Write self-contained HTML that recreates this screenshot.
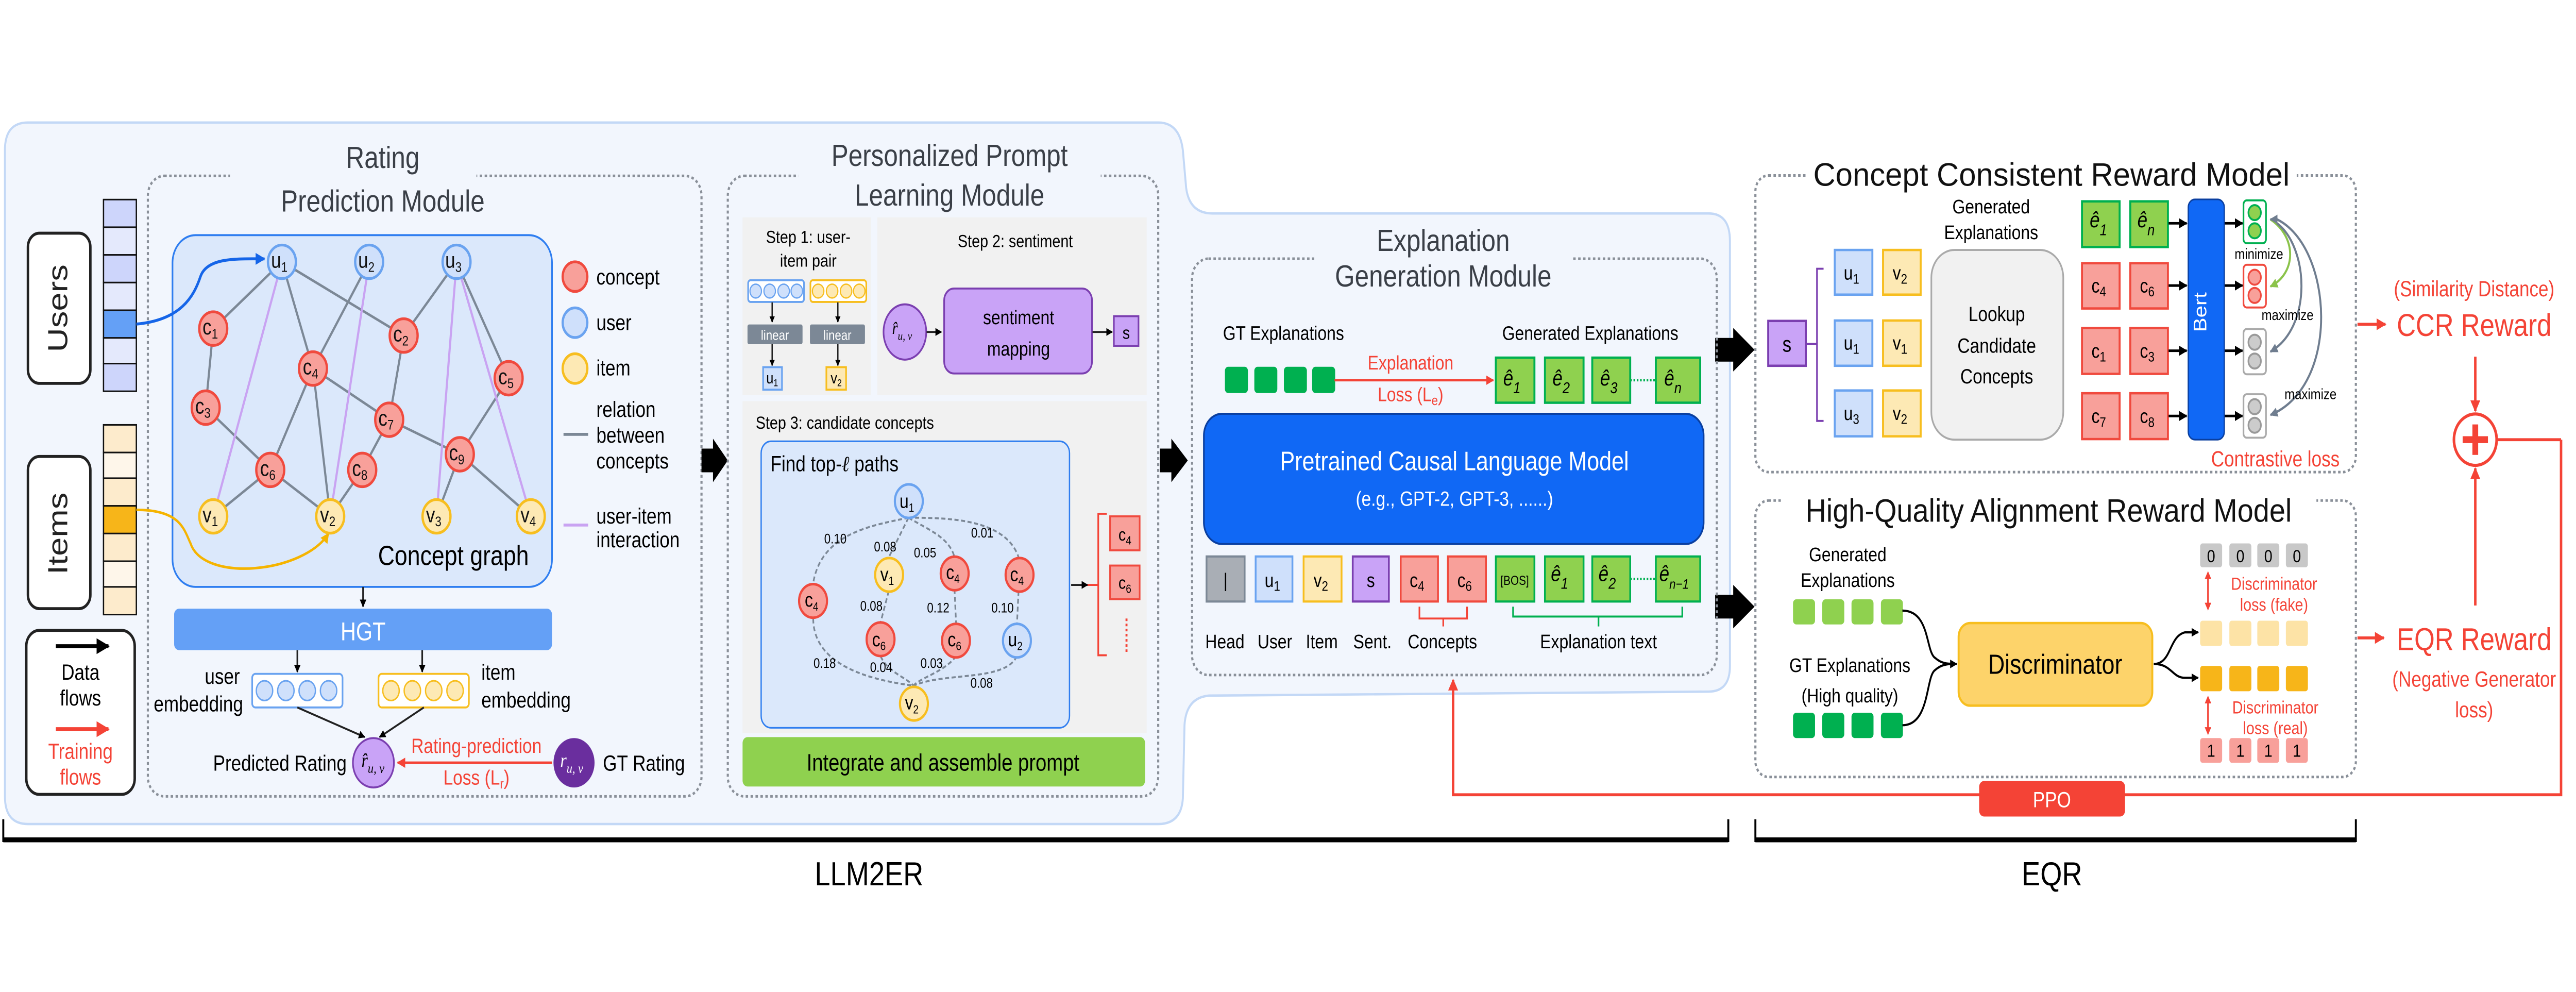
<!DOCTYPE html>
<html><head><meta charset="utf-8"><style>
html,body{margin:0;padding:0;background:#fff;overflow:hidden;width:100vw;height:100vh;}
svg{display:block;width:100vw;height:100vh;}
text{font-family:"Liberation Sans",sans-serif;}
.t{font-size:11px;fill:#000;}
.ti{font-size:15.5px;fill:#3a3f47;}
.m{font-family:"Liberation Serif",serif;font-style:italic;}
</style></head><body>
<svg viewBox="0 0 1568 502" preserveAspectRatio="none" xmlns="http://www.w3.org/2000/svg">
<defs>
<marker id="ab" viewBox="0 0 10 10" refX="9" refY="5" markerWidth="4" markerHeight="4" orient="auto"><path d="M0,0 L10,5 L0,10 z" fill="#000"/></marker>
<marker id="ar" viewBox="0 0 10 10" refX="9" refY="5" markerWidth="4" markerHeight="4" orient="auto"><path d="M0,0 L10,5 L0,10 z" fill="#f44336"/></marker>
<marker id="ar2" viewBox="0 0 10 10" refX="5" refY="5" markerWidth="4" markerHeight="4" orient="auto-start-reverse"><path d="M0,0 L10,5 L0,10 z" fill="#f44336"/></marker>
<marker id="ag" viewBox="0 0 10 10" refX="9" refY="5" markerWidth="4" markerHeight="4" orient="auto"><path d="M0,0 L10,5 L0,10 z" fill="#6f7d8f"/></marker>
<marker id="agr" viewBox="0 0 10 10" refX="9" refY="5" markerWidth="4" markerHeight="4" orient="auto"><path d="M0,0 L10,5 L0,10 z" fill="#8bc34a"/></marker>
<marker id="abl" viewBox="0 0 10 10" refX="9" refY="5" markerWidth="4" markerHeight="4" orient="auto"><path d="M0,0 L10,5 L0,10 z" fill="#1565e8"/></marker>
<marker id="ao" viewBox="0 0 10 10" refX="9" refY="5" markerWidth="4" markerHeight="4" orient="auto"><path d="M0,0 L10,5 L0,10 z" fill="#f5b400"/></marker>
</defs>

<path d="M3,76 Q3,62 17,62 L705,62 Q718,62 720,76 L722,95 Q724,108 738,108 L1040,108 Q1053,108 1053,122 L1053,337 Q1053,350 1040,350 L736,352 Q722,353 721,367 L720,404 Q719,417 705,417 L17,417 Q3,417 3,403 Z" fill="#f2f6fd" stroke="#c3d8f6" stroke-width="1.2"/>

<rect x="90" y="89" width="337" height="314" rx="10" fill="none" stroke="#8a9099" stroke-width="1.3" stroke-dasharray="1.5,1.5"/>
<rect x="140" y="80" width="150" height="30" fill="#f2f6fd"/>
<text class="ti" x="233" y="85" text-anchor="middle">Rating</text>
<text class="ti" x="233" y="107" text-anchor="middle">Prediction Module</text>

<rect x="17" y="118" width="38" height="76" rx="7" fill="#fff" stroke="#222" stroke-width="1.5"/>
<text x="41" y="156" font-size="17" text-anchor="middle" transform="rotate(-90 41 156)" fill="#222">Users</text>
<g stroke="#111" stroke-width="0.8">
<rect x="63" y="101" width="20" height="14" fill="#cdd5fb"/><rect x="63" y="115" width="20" height="14" fill="#e4e9fc"/><rect x="63" y="129" width="20" height="14" fill="#cdd5fb"/><rect x="63" y="143" width="20" height="14" fill="#e4e9fc"/><rect x="63" y="157" width="20" height="14" fill="#64a0f6"/><rect x="63" y="171" width="20" height="13" fill="#e4e9fc"/><rect x="63" y="184" width="20" height="14" fill="#cdd5fb"/>
</g>
<rect x="17" y="231" width="38" height="77" rx="7" fill="#fff" stroke="#222" stroke-width="1.5"/>
<text x="41" y="270" font-size="17" text-anchor="middle" transform="rotate(-90 41 270)" fill="#222">Items</text>
<g stroke="#111" stroke-width="0.8">
<rect x="63" y="215" width="20" height="14" fill="#fdebcc"/><rect x="63" y="229" width="20" height="13" fill="#fef6ea"/><rect x="63" y="242" width="20" height="14" fill="#fdebcc"/><rect x="63" y="256" width="20" height="14" fill="#f7b519"/><rect x="63" y="270" width="20" height="14" fill="#fdebcc"/><rect x="63" y="284" width="20" height="13" fill="#fef6ea"/><rect x="63" y="297" width="20" height="14" fill="#fdebcc"/>
</g>
<rect x="16" y="319" width="66" height="83" rx="8" fill="#fff" stroke="#222" stroke-width="1.5"/>
<line x1="34" y1="327" x2="66" y2="327" stroke="#000" stroke-width="2" marker-end="url(#ab)"/>
<text class="t" x="49" y="344" text-anchor="middle">Data</text><text class="t" x="49" y="357" text-anchor="middle">flows</text>
<line x1="34" y1="369" x2="66" y2="369" stroke="#f44336" stroke-width="2" marker-end="url(#ar)"/>
<text class="t" x="49" y="384" text-anchor="middle" style="fill:#f44336">Training</text><text class="t" x="49" y="397" text-anchor="middle" style="fill:#f44336">flows</text>

<rect x="105" y="119" width="231" height="178" rx="14" fill="#dbe8fb" stroke="#2f7ef0" stroke-width="1"/>
<path d="M83,164 C110,162 118,150 122,140 C126,130 145,131 161,131" fill="none" stroke="#1565e8" stroke-width="1.5" marker-end="url(#abl)"/>
<path d="M83,258 C110,258 112,268 116,275 C124,295 185,290 200,270" fill="none" stroke="#f5b400" stroke-width="1.3" marker-end="url(#ao)"/>
<g stroke="#7c8896" stroke-width="1.3">
<line x1="171.6" y1="132.5" x2="129.8" y2="166.3"/><line x1="171.6" y1="132.5" x2="190.5" y2="186.5"/><line x1="171.6" y1="132.5" x2="245.7" y2="169.8"/>
<line x1="224.7" y1="132.5" x2="190.5" y2="186.5"/><line x1="277.9" y1="132.5" x2="245.7" y2="169.8"/><line x1="277.9" y1="132.5" x2="309.6" y2="191.4"/>
<line x1="129.8" y1="166.3" x2="125.2" y2="206.3"/><line x1="125.2" y1="206.3" x2="164.5" y2="237.8"/><line x1="164.5" y1="237.8" x2="190.5" y2="186.5"/>
<line x1="190.5" y1="186.5" x2="236.9" y2="212.4"/><line x1="190.5" y1="186.5" x2="201" y2="261.3"/><line x1="245.7" y1="169.8" x2="236.9" y2="212.4"/>
<line x1="236.9" y1="212.4" x2="279.9" y2="229.9"/><line x1="236.9" y1="212.4" x2="220.5" y2="237.8"/><line x1="220.5" y1="237.8" x2="201" y2="261.3"/>
<line x1="164.5" y1="237.8" x2="129.8" y2="261.3"/><line x1="164.5" y1="237.8" x2="201" y2="261.3"/><line x1="309.6" y1="191.4" x2="279.9" y2="229.9"/>
<line x1="279.9" y1="229.9" x2="265.7" y2="261.3"/><line x1="279.9" y1="229.9" x2="323.1" y2="261.3"/>
</g>
<g stroke="#c9a3f2" stroke-width="1.3">
<line x1="171.6" y1="132.5" x2="129.8" y2="261.3"/><line x1="224.7" y1="132.5" x2="201" y2="261.3"/><line x1="277.9" y1="132.5" x2="265.7" y2="261.3"/><line x1="277.9" y1="132.5" x2="323.1" y2="261.3"/>
</g>
<g font-size="11" text-anchor="middle" fill="#111">
<g stroke-width="1.4">
<circle cx="171.6" cy="132.5" r="8.5" fill="#cfe0fb" stroke="#6aa3f0"/><circle cx="224.7" cy="132.5" r="8.5" fill="#cfe0fb" stroke="#6aa3f0"/><circle cx="277.9" cy="132.5" r="8.5" fill="#cfe0fb" stroke="#6aa3f0"/>
<circle cx="129.8" cy="166.3" r="8.5" fill="#f8a09a" stroke="#f04a3e"/><circle cx="245.7" cy="169.8" r="8.5" fill="#f8a09a" stroke="#f04a3e"/><circle cx="190.5" cy="186.5" r="8.5" fill="#f8a09a" stroke="#f04a3e"/><circle cx="309.6" cy="191.4" r="8.5" fill="#f8a09a" stroke="#f04a3e"/><circle cx="125.2" cy="206.3" r="8.5" fill="#f8a09a" stroke="#f04a3e"/><circle cx="236.9" cy="212.4" r="8.5" fill="#f8a09a" stroke="#f04a3e"/><circle cx="279.9" cy="229.9" r="8.5" fill="#f8a09a" stroke="#f04a3e"/><circle cx="164.5" cy="237.8" r="8.5" fill="#f8a09a" stroke="#f04a3e"/><circle cx="220.5" cy="237.8" r="8.5" fill="#f8a09a" stroke="#f04a3e"/>
<circle cx="129.8" cy="261.3" r="8.5" fill="#fde9b4" stroke="#f7be1f"/><circle cx="201" cy="261.3" r="8.5" fill="#fde9b4" stroke="#f7be1f"/><circle cx="265.7" cy="261.3" r="8.5" fill="#fde9b4" stroke="#f7be1f"/><circle cx="323.1" cy="261.3" r="8.5" fill="#fde9b4" stroke="#f7be1f"/>
</g>
<text x="170" y="135.5">u<tspan font-size="7" dy="2">1</tspan></text><text x="223" y="135.5">u<tspan font-size="7" dy="2">2</tspan></text><text x="276" y="135.5">u<tspan font-size="7" dy="2">3</tspan></text>
<text x="128" y="169.3">c<tspan font-size="7" dy="2">1</tspan></text><text x="244" y="172.8">c<tspan font-size="7" dy="2">2</tspan></text><text x="189" y="189.5">c<tspan font-size="7" dy="2">4</tspan></text><text x="308" y="194.4">c<tspan font-size="7" dy="2">5</tspan></text><text x="123.5" y="209.3">c<tspan font-size="7" dy="2">3</tspan></text><text x="235" y="215.4">c<tspan font-size="7" dy="2">7</tspan></text><text x="278" y="232.9">c<tspan font-size="7" dy="2">9</tspan></text><text x="163" y="240.8">c<tspan font-size="7" dy="2">6</tspan></text><text x="219" y="240.8">c<tspan font-size="7" dy="2">8</tspan></text>
<text x="128" y="264.3">v<tspan font-size="7" dy="2">1</tspan></text><text x="199.5" y="264.3">v<tspan font-size="7" dy="2">2</tspan></text><text x="264" y="264.3">v<tspan font-size="7" dy="2">3</tspan></text><text x="321.5" y="264.3">v<tspan font-size="7" dy="2">4</tspan></text>
</g>
<text x="276" y="286" font-size="14" text-anchor="middle" fill="#000">Concept graph</text>
<circle cx="350" cy="140" r="7.5" fill="#f8a09a" stroke="#f04a3e" stroke-width="1.4"/><text class="t" x="363" y="144">concept</text>
<circle cx="350" cy="163.3" r="7.5" fill="#cfe0fb" stroke="#6aa3f0" stroke-width="1.4"/><text class="t" x="363" y="167">user</text>
<circle cx="350" cy="186.5" r="7.5" fill="#fde9b4" stroke="#f7be1f" stroke-width="1.4"/><text class="t" x="363" y="190">item</text>
<line x1="343" y1="219.8" x2="358" y2="219.8" stroke="#7c8896" stroke-width="1.5"/><text class="t" x="363" y="211">relation</text><text class="t" x="363" y="224">between</text><text class="t" x="363" y="237">concepts</text>
<line x1="343" y1="265.7" x2="358" y2="265.7" stroke="#c9a3f2" stroke-width="1.5"/><text class="t" x="363" y="265">user-item</text><text class="t" x="363" y="277">interaction</text>
<line x1="221" y1="297" x2="221" y2="307" stroke="#222" stroke-width="1" marker-end="url(#ab)"/>
<rect x="106" y="308" width="230" height="21" rx="3" fill="#64a0f6"/>
<text x="221" y="324" font-size="13" fill="#fff" text-anchor="middle">HGT</text>
<line x1="181" y1="329" x2="181" y2="340" stroke="#222" stroke-width="1" marker-end="url(#ab)"/>
<line x1="257" y1="329" x2="257" y2="340" stroke="#222" stroke-width="1" marker-end="url(#ab)"/>
<rect x="153.5" y="341" width="55" height="17" rx="2" fill="#fff" stroke="#6aa3f0" stroke-width="1"/>
<g fill="#cfe0fb" stroke="#6aa3f0" stroke-width="0.8"><circle cx="161" cy="349.5" r="5"/><circle cx="174" cy="349.5" r="5"/><circle cx="187" cy="349.5" r="5"/><circle cx="200" cy="349.5" r="5"/></g>
<rect x="230.4" y="341" width="55" height="17" rx="2" fill="#fff" stroke="#f7be1f" stroke-width="1"/>
<g fill="#fde9b4" stroke="#f7be1f" stroke-width="0.8"><circle cx="238" cy="349.5" r="5"/><circle cx="251" cy="349.5" r="5"/><circle cx="264" cy="349.5" r="5"/><circle cx="277" cy="349.5" r="5"/></g>
<text class="t" x="146" y="346" text-anchor="end">user</text><text class="t" x="148" y="360" text-anchor="end">embedding</text>
<text class="t" x="293" y="344">item</text><text class="t" x="293" y="358">embedding</text>
<line x1="181" y1="358" x2="222" y2="373" stroke="#222" stroke-width="1" marker-end="url(#ab)"/>
<line x1="258" y1="358" x2="231" y2="373" stroke="#222" stroke-width="1" marker-end="url(#ab)"/>
<circle cx="227.3" cy="386" r="12.5" fill="#c9a3f7" stroke="#7b3fb0" stroke-width="1"/>
<text x="220" y="388" font-size="10" class="m">r̂<tspan font-size="7" dy="3">u, v</tspan></text>
<circle cx="349.4" cy="386" r="12.5" fill="#6a2e9e"/>
<text x="341" y="388" font-size="10" class="m" fill="#fff">r<tspan font-size="7" dy="3">u, v</tspan></text>
<text class="t" x="211" y="390" text-anchor="end">Predicted Rating</text>
<text class="t" x="367" y="390">GT Rating</text>
<line x1="336" y1="386" x2="242" y2="386" stroke="#f44336" stroke-width="1.3" marker-end="url(#ar)"/>
<text x="290" y="381" font-size="10.5" fill="#f44336" text-anchor="middle">Rating-prediction</text>
<text x="290" y="397" font-size="10.5" fill="#f44336" text-anchor="middle">Loss (L<tspan font-size="7" dy="2">r</tspan><tspan dy="-2">)</tspan></text>

<path d="M427,227 L434,227 L434,222 L443,233 L434,244 L434,239 L427,239 Z" fill="#000"/>
<path d="M706,227 L713,227 L713,222 L723,233 L713,244 L713,239 L706,239 Z" fill="#000"/>
<path d="M1044,171 L1055,171 L1055,166 L1068,177 L1055,188 L1055,183 L1044,183 Z" fill="#000"/>
<path d="M1044,301 L1055,301 L1055,296 L1068,307 L1055,318 L1055,313 L1044,313 Z" fill="#000"/>

<rect x="443" y="89" width="262" height="314" rx="10" fill="none" stroke="#8a9099" stroke-width="1.3" stroke-dasharray="1.5,1.5"/>
<rect x="486" y="80" width="184" height="30" fill="#f2f6fd"/>
<text class="ti" x="578" y="84" text-anchor="middle">Personalized Prompt</text>
<text class="ti" x="578" y="104" text-anchor="middle">Learning Module</text>
<rect x="452" y="110" width="78" height="90" fill="#f1f1f1"/>
<rect x="534" y="110" width="164" height="90" fill="#f1f1f1"/>
<rect x="452" y="203" width="246" height="168" fill="#f1f1f1"/>
<text x="492" y="123" font-size="9" text-anchor="middle">Step 1: user-</text>
<text x="492" y="135" font-size="9" text-anchor="middle">item pair</text>
<rect x="455.4" y="141.8" width="34" height="11" rx="1.5" fill="#fff" stroke="#6aa3f0"/>
<g fill="#cfe0fb" stroke="#6aa3f0" stroke-width="0.7"><circle cx="460" cy="147.3" r="3.5"/><circle cx="468.5" cy="147.3" r="3.5"/><circle cx="477" cy="147.3" r="3.5"/><circle cx="485" cy="147.3" r="3.5"/></g>
<rect x="493.3" y="141.8" width="34" height="11" rx="1.5" fill="#fff" stroke="#f7be1f"/>
<g fill="#fde9b4" stroke="#f7be1f" stroke-width="0.7"><circle cx="498" cy="147.3" r="3.5"/><circle cx="506.5" cy="147.3" r="3.5"/><circle cx="515" cy="147.3" r="3.5"/><circle cx="523" cy="147.3" r="3.5"/></g>
<g stroke="#222" stroke-width="0.8"><line x1="470" y1="153" x2="470" y2="163" marker-end="url(#ab)"/><line x1="510" y1="153" x2="510" y2="163" marker-end="url(#ab)"/><line x1="470" y1="174" x2="470" y2="185" marker-end="url(#ab)"/><line x1="510" y1="174" x2="510" y2="185" marker-end="url(#ab)"/></g>
<rect x="455" y="164.2" width="33.5" height="10" rx="1" fill="#7c8896"/><rect x="493" y="164.2" width="33.5" height="10" rx="1" fill="#7c8896"/>
<text x="471.7" y="172" font-size="7" fill="#fff" text-anchor="middle">linear</text><text x="509.7" y="172" font-size="7" fill="#fff" text-anchor="middle">linear</text>
<rect x="464.5" y="185.8" width="11.5" height="11.4" fill="#cfe0fb" stroke="#6aa3f0"/><text x="470" y="194" font-size="8" text-anchor="middle">u<tspan font-size="5" dy="1.5">1</tspan></text>
<rect x="503" y="185.8" width="12" height="11.4" fill="#fde9b4" stroke="#f7be1f"/><text x="509" y="194" font-size="8" text-anchor="middle">v<tspan font-size="5" dy="1.5">2</tspan></text>
<text x="618" y="125" font-size="9" text-anchor="middle">Step 2: sentiment</text>
<ellipse cx="550.8" cy="168" rx="13" ry="14" fill="#c9a3f7" stroke="#7b3fb0"/>
<text x="543" y="169" font-size="9" class="m">r̂<tspan font-size="6" dy="3">u, v</tspan></text>
<line x1="564" y1="168" x2="573" y2="168" stroke="#222" stroke-width="1" marker-end="url(#ab)"/>
<rect x="574.7" y="146" width="90" height="43" rx="6" fill="#c9a3f7" stroke="#7b3fb0" stroke-width="1"/>
<text x="620" y="164" font-size="10" text-anchor="middle">sentiment</text><text x="620" y="180" font-size="10" text-anchor="middle">mapping</text>
<line x1="665" y1="168" x2="677" y2="168" stroke="#222" stroke-width="1" marker-end="url(#ab)"/>
<rect x="678" y="160" width="15" height="15" fill="#c9a3f7" stroke="#7b3fb0"/><text x="685.5" y="171.5" font-size="9" text-anchor="middle">s</text>
<text x="460" y="217" font-size="9">Step 3: candidate concepts</text>
<rect x="463.3" y="223.3" width="187.7" height="145" rx="6" fill="#dbe8fb" stroke="#2f7ef0" stroke-width="0.8"/>
<text x="469" y="238.5" font-size="11">Find top-<tspan class="m">ℓ</tspan> paths</text>
<g fill="none" stroke="#7c8896" stroke-width="1" stroke-dasharray="2.5,1.5">
<path d="M553,262 C530,266 500,270 495,295"/><path d="M495,313 C495,340 540,345 556,347"/>
<path d="M553,262 L541,282"/><path d="M541,299 L536,315"/><path d="M536,332 C540,340 552,343 556,347"/>
<path d="M553,262 C565,268 578,272 581,282"/><path d="M581,298 L582,316"/><path d="M582,332 C575,340 560,343 556,347"/>
<path d="M553,262 C575,262 612,262 620,282"/><path d="M620,299 L619,316"/><path d="M619,332 C612,345 575,340 556,347"/>
</g>
<g font-size="10" text-anchor="middle" stroke-width="1.3">
<circle cx="553.2" cy="253.6" r="8.5" fill="#cfe0fb" stroke="#6aa3f0"/><text x="552" y="257">u<tspan font-size="6" dy="2">1</tspan></text>
<circle cx="541.2" cy="290.9" r="8.5" fill="#fde9b4" stroke="#f7be1f"/><text x="540" y="294">v<tspan font-size="6" dy="2">1</tspan></text>
<circle cx="581.1" cy="290.2" r="8.5" fill="#f8a09a" stroke="#f04a3e"/><text x="580" y="293">c<tspan font-size="6" dy="2">4</tspan></text>
<circle cx="620.6" cy="290.9" r="8.5" fill="#f8a09a" stroke="#f04a3e"/><text x="619" y="294">c<tspan font-size="6" dy="2">4</tspan></text>
<circle cx="494.9" cy="304.1" r="8.5" fill="#f8a09a" stroke="#f04a3e"/><text x="494" y="307">c<tspan font-size="6" dy="2">4</tspan></text>
<circle cx="536" cy="323.5" r="8.5" fill="#f8a09a" stroke="#f04a3e"/><text x="535" y="327">c<tspan font-size="6" dy="2">6</tspan></text>
<circle cx="581.9" cy="324.2" r="8.5" fill="#f8a09a" stroke="#f04a3e"/><text x="581" y="327">c<tspan font-size="6" dy="2">6</tspan></text>
<circle cx="619" cy="324.2" r="8.5" fill="#cfe0fb" stroke="#6aa3f0"/><text x="618" y="327">u<tspan font-size="6" dy="2">2</tspan></text>
<circle cx="556.3" cy="356.1" r="8.5" fill="#fde9b4" stroke="#f7be1f"/><text x="555" y="359">v<tspan font-size="6" dy="2">2</tspan></text>
</g>
<g font-size="7" text-anchor="middle">
<text x="508.5" y="275">0.10</text><text x="538.8" y="279">0.08</text><text x="563.1" y="282">0.05</text><text x="597.9" y="272">0.01</text><text x="530.4" y="309">0.08</text><text x="571.1" y="310">0.12</text><text x="610.2" y="310">0.10</text><text x="502" y="338">0.18</text><text x="536.4" y="340">0.04</text><text x="567.1" y="338">0.03</text><text x="597.5" y="348">0.08</text>
</g>
<line x1="652" y1="296" x2="662" y2="296" stroke="#222" stroke-width="1" marker-end="url(#ab)"/>
<path d="M673.7,260 L668.5,260 L668.5,331.6 L673.7,331.6 M662,296 L668.5,296" fill="none" stroke="#f44336" stroke-width="1"/>
<rect x="675.7" y="261.3" width="18" height="17.2" fill="#f8a09a" stroke="#f04a3e"/><text x="684.7" y="273.5" font-size="9" text-anchor="middle">c<tspan font-size="6" dy="2">4</tspan></text>
<rect x="675.7" y="286.2" width="18" height="17" fill="#f8a09a" stroke="#f04a3e"/><text x="684.7" y="298" font-size="9" text-anchor="middle">c<tspan font-size="6" dy="2">6</tspan></text>
<line x1="685.7" y1="313" x2="685.7" y2="330.5" stroke="#f44336" stroke-width="1.2" stroke-dasharray="1.3,1.3"/>
<rect x="452" y="373" width="245" height="25" rx="3" fill="#8fd14f"/>
<text x="574" y="390" font-size="12" text-anchor="middle">Integrate and assemble prompt</text>

<rect x="725.6" y="130.9" width="319.4" height="210.7" rx="10" fill="none" stroke="#8a9099" stroke-width="1.3" stroke-dasharray="1.5,1.5"/>
<rect x="800" y="118" width="157" height="30" fill="#f2f6fd"/>
<text class="ti" x="878.5" y="127" text-anchor="middle">Explanation</text>
<text class="ti" x="878.5" y="145" text-anchor="middle">Generation Module</text>
<text x="744.4" y="172" font-size="10">GT Explanations</text>
<text x="968" y="172" font-size="10" text-anchor="middle">Generated Explanations</text>
<g fill="#00b050"><rect x="745.6" y="185.6" width="14" height="13.3" rx="2"/><rect x="763.5" y="185.6" width="14" height="13.3" rx="2"/><rect x="781.5" y="185.6" width="14" height="13.3" rx="2"/><rect x="798.7" y="185.6" width="14" height="13.3" rx="2"/></g>
<line x1="812.3" y1="192.4" x2="909" y2="192.4" stroke="#f44336" stroke-width="1.2" marker-end="url(#ar)"/>
<text x="858.6" y="187" font-size="10" fill="#f44336" text-anchor="middle">Explanation</text>
<text x="858.6" y="203" font-size="10" fill="#f44336" text-anchor="middle">Loss (L<tspan font-size="7" dy="2">e</tspan><tspan dy="-2">)</tspan></text>
<g fill="#8fd14f" stroke="#00b050" stroke-width="1.2">
<rect x="910.5" y="181" width="23.5" height="22.8"/><rect x="940.4" y="181" width="23.5" height="22.8"/><rect x="969.2" y="181" width="23.1" height="22.8"/><rect x="1007.9" y="181" width="27" height="22.8"/>
</g>
<line x1="992.3" y1="192.4" x2="1007.9" y2="192.4" stroke="#00b050" stroke-width="1.2" stroke-dasharray="1,1"/>
<g font-size="11" class="m">
<text x="915" y="195">ê<tspan font-size="8" dy="4">1</tspan></text><text x="945" y="195">ê<tspan font-size="8" dy="4">2</tspan></text><text x="974" y="195">ê<tspan font-size="8" dy="4">3</tspan></text><text x="1013" y="195">ê<tspan font-size="8" dy="4">n</tspan></text>
</g>
<rect x="732.8" y="209.4" width="304.2" height="65.9" rx="11" fill="#1068f5" stroke="#0a3fa0" stroke-width="1"/>
<text x="885.3" y="238" font-size="13.5" fill="#fff" text-anchor="middle">Pretrained Causal Language Model</text>
<text x="885.3" y="256" font-size="10.5" fill="#fff" text-anchor="middle">(e.g., GPT-2, GPT-3,  ......)</text>
<g stroke-width="1.1">
<rect x="734.4" y="281.6" width="23.2" height="22.8" fill="#a9aeb5" stroke="#7c8896"/>
<rect x="764.3" y="281.6" width="22.4" height="22.8" fill="#cfe0fb" stroke="#6aa3f0"/>
<rect x="793.5" y="281.6" width="23.1" height="22.8" fill="#fde9b4" stroke="#f7be1f"/>
<rect x="823.4" y="281.6" width="22" height="22.8" fill="#c9a3f7" stroke="#7b3fb0"/>
<rect x="852.6" y="281.6" width="22.7" height="22.8" fill="#f8a09a" stroke="#f04a3e"/>
<rect x="881.3" y="281.6" width="23.2" height="22.8" fill="#f8a09a" stroke="#f04a3e"/>
<rect x="910.5" y="281.6" width="23.5" height="22.8" fill="#8fd14f" stroke="#00b050"/>
<rect x="940.4" y="281.6" width="23.5" height="22.8" fill="#8fd14f" stroke="#00b050"/>
<rect x="969.2" y="281.6" width="23.1" height="22.8" fill="#8fd14f" stroke="#00b050"/>
<rect x="1007.9" y="281.6" width="27" height="22.8" fill="#8fd14f" stroke="#00b050"/>
</g>
<line x1="992.3" y1="293" x2="1007.9" y2="293" stroke="#00b050" stroke-width="1.2" stroke-dasharray="1,1"/>
<g font-size="10" text-anchor="middle">
<text x="746" y="297">|</text><text x="774.5" y="297">u<tspan font-size="7" dy="2">1</tspan></text><text x="804" y="297">v<tspan font-size="7" dy="2">2</tspan></text><text x="834.4" y="297">s</text><text x="862.5" y="297">c<tspan font-size="7" dy="2">4</tspan></text><text x="891.5" y="297">c<tspan font-size="7" dy="2">6</tspan></text><text x="922" y="296" font-size="6.5">[BOS]</text>
</g>
<g font-size="11" class="m"><text x="944" y="294">ê<tspan font-size="8" dy="4">1</tspan></text><text x="973" y="294">ê<tspan font-size="8" dy="4">2</tspan></text><text x="1010" y="294">ê<tspan font-size="7" dy="4">n−1</tspan></text></g>
<path d="M864,307 L864,313 L893,313 L893,307 M878.5,313 L878.5,317" fill="none" stroke="#f44336" stroke-width="1"/>
<path d="M921,307 L921,312 L1024,312 L1024,307 M973,312 L973,317" fill="none" stroke="#00b050" stroke-width="1"/>
<g font-size="10" text-anchor="middle"><text x="745.6" y="328">Head</text><text x="776" y="328">User</text><text x="804.6" y="328">Item</text><text x="835.4" y="328">Sent.</text><text x="878" y="328">Concepts</text><text x="973" y="328">Explanation text</text></g>

<path d="M1558.9,222.5 L1558.9,402.2 L884.5,402.2 L884.5,344" fill="none" stroke="#f44336" stroke-width="1.5" marker-end="url(#ar)"/>
<line x1="1519" y1="222.5" x2="1558.9" y2="222.5" stroke="#f44336" stroke-width="1.5"/>
<rect x="1204.7" y="395.2" width="88.8" height="18" rx="3" fill="#f44336"/>
<text x="1249" y="408.5" font-size="11" fill="#fff" text-anchor="middle">PPO</text>

<rect x="1068.5" y="88.8" width="365.5" height="150.1" rx="8" fill="none" stroke="#8a9099" stroke-width="1.3" stroke-dasharray="1.5,1.5"/>
<rect x="1100" y="78" width="298" height="20" fill="#fff"/>
<text x="1248.7" y="94" font-size="16.5" text-anchor="middle" fill="#111" textLength="290" lengthAdjust="spacingAndGlyphs">Concept Consistent Reward Model</text>
<rect x="1076.3" y="162.4" width="22.9" height="22.7" fill="#c9a3f7" stroke="#7b3fb0" stroke-width="1.2"/>
<text x="1087.7" y="178" font-size="11" text-anchor="middle">s</text>
<path d="M1110,136 L1106,136 L1106,213 L1110,213 M1099.2,174 L1106,174" fill="none" stroke="#7b3fb0" stroke-width="1"/>
<g stroke-width="1.2">
<rect x="1116.8" y="126.5" width="22.9" height="22.6" fill="#cfe0fb" stroke="#6aa3f0"/><rect x="1146.2" y="126.5" width="22.9" height="22.6" fill="#fde9b4" stroke="#f7be1f"/>
<rect x="1116.8" y="162.2" width="22.9" height="22.9" fill="#cfe0fb" stroke="#6aa3f0"/><rect x="1146.2" y="162.2" width="22.9" height="22.9" fill="#fde9b4" stroke="#f7be1f"/>
<rect x="1116.8" y="197.6" width="22.9" height="23.2" fill="#cfe0fb" stroke="#6aa3f0"/><rect x="1146.2" y="197.6" width="22.9" height="23.2" fill="#fde9b4" stroke="#f7be1f"/>
</g>
<g font-size="10" text-anchor="middle">
<text x="1127" y="141.5">u<tspan font-size="7" dy="2">1</tspan></text><text x="1156.5" y="141.5">v<tspan font-size="7" dy="2">2</tspan></text>
<text x="1127" y="177">u<tspan font-size="7" dy="2">1</tspan></text><text x="1156.5" y="177">v<tspan font-size="7" dy="2">1</tspan></text>
<text x="1127" y="212.5">u<tspan font-size="7" dy="2">3</tspan></text><text x="1156.5" y="212.5">v<tspan font-size="7" dy="2">2</tspan></text>
</g>
<text x="1212" y="108" font-size="10" text-anchor="middle">Generated</text><text x="1212" y="121" font-size="10" text-anchor="middle">Explanations</text>
<rect x="1175.6" y="126.5" width="80.3" height="96" rx="14" fill="#f1f1f1" stroke="#aaa" stroke-width="1"/>
<g font-size="10.5" text-anchor="middle"><text x="1215.4" y="162.5">Lookup</text><text x="1215.4" y="178.5">Candidate</text><text x="1215.4" y="194">Concepts</text></g>
<g stroke-width="1.2">
<rect x="1267.3" y="101.9" width="22.9" height="23.1" fill="#8fd14f" stroke="#00b050"/><rect x="1296.7" y="101.9" width="22.9" height="23.1" fill="#8fd14f" stroke="#00b050"/>
<rect x="1267.3" y="133.2" width="22.9" height="22.9" fill="#f8a09a" stroke="#f04a3e"/><rect x="1296.7" y="133.2" width="22.9" height="22.9" fill="#f8a09a" stroke="#f04a3e"/>
<rect x="1267.3" y="166" width="22.9" height="23.2" fill="#f8a09a" stroke="#f04a3e"/><rect x="1296.7" y="166" width="22.9" height="23.2" fill="#f8a09a" stroke="#f04a3e"/>
<rect x="1267.3" y="199" width="22.9" height="23.2" fill="#f8a09a" stroke="#f04a3e"/><rect x="1296.7" y="199" width="22.9" height="23.2" fill="#f8a09a" stroke="#f04a3e"/>
</g>
<g font-size="11" class="m"><text x="1272" y="115">ê<tspan font-size="8" dy="4">1</tspan></text><text x="1301" y="115">ê<tspan font-size="8" dy="4">n</tspan></text></g>
<g font-size="10" text-anchor="middle">
<text x="1277.5" y="148">c<tspan font-size="7" dy="2">4</tspan></text><text x="1307" y="148">c<tspan font-size="7" dy="2">6</tspan></text>
<text x="1277.5" y="181">c<tspan font-size="7" dy="2">1</tspan></text><text x="1307" y="181">c<tspan font-size="7" dy="2">3</tspan></text>
<text x="1277.5" y="214">c<tspan font-size="7" dy="2">7</tspan></text><text x="1307" y="214">c<tspan font-size="7" dy="2">8</tspan></text>
</g>
<g stroke="#000" stroke-width="1.3">
<line x1="1320" y1="113" x2="1331" y2="113" marker-end="url(#ab)"/><line x1="1320" y1="144.5" x2="1331" y2="144.5" marker-end="url(#ab)"/><line x1="1320" y1="177.5" x2="1331" y2="177.5" marker-end="url(#ab)"/><line x1="1320" y1="210.5" x2="1331" y2="210.5" marker-end="url(#ab)"/>
<line x1="1354" y1="113" x2="1365" y2="113" marker-end="url(#ab)"/><line x1="1354" y1="144.5" x2="1365" y2="144.5" marker-end="url(#ab)"/><line x1="1354" y1="177.5" x2="1365" y2="177.5" marker-end="url(#ab)"/><line x1="1354" y1="210.5" x2="1365" y2="210.5" marker-end="url(#ab)"/>
</g>
<rect x="1332" y="100.9" width="21.9" height="121.6" rx="4" fill="#1068f5" stroke="#0a3fa0" stroke-width="0.8"/>
<text x="1347" y="162" font-size="11" fill="#fff" text-anchor="middle" transform="rotate(-90 1343 162)">Bert</text>
<rect x="1365.6" y="101.4" width="13.7" height="21.7" rx="2" fill="#fff" stroke="#00b050" stroke-width="1"/><circle cx="1372.4" cy="107.6" r="3.8" fill="#8fd14f" stroke="#00b050"/><circle cx="1372.4" cy="116.8" r="3.8" fill="#8fd14f" stroke="#00b050"/>
<rect x="1365.6" y="134" width="13.7" height="21.6" rx="2" fill="#fff" stroke="#f04a3e" stroke-width="1"/><circle cx="1372.4" cy="140.3" r="3.8" fill="#f8a09a" stroke="#f04a3e"/><circle cx="1372.4" cy="149.5" r="3.8" fill="#f8a09a" stroke="#f04a3e"/>
<rect x="1365.6" y="166.5" width="13.7" height="22.9" rx="2" fill="#fff" stroke="#aaa" stroke-width="1"/><circle cx="1372.4" cy="173.2" r="3.8" fill="#ccc" stroke="#999"/><circle cx="1372.4" cy="182.7" r="3.8" fill="#ccc" stroke="#999"/>
<rect x="1365.6" y="199.5" width="13.7" height="22" rx="2" fill="#fff" stroke="#aaa" stroke-width="1"/><circle cx="1372.4" cy="205.8" r="3.8" fill="#ccc" stroke="#999"/><circle cx="1372.4" cy="215.2" r="3.8" fill="#ccc" stroke="#999"/>
<path d="M1382,111 C1398,120 1398,138 1382,145" fill="none" stroke="#8bc34a" stroke-width="1.2" marker-end="url(#agr)"/>
<path d="M1386,113 C1405,125 1408,165 1382,178" fill="none" stroke="#6f7d8f" stroke-width="1.2" marker-end="url(#ag)"/>
<path d="M1386,111 C1420,125 1425,195 1382,210" fill="none" stroke="#6f7d8f" stroke-width="1.2" marker-end="url(#ag)"/>
<line x1="1386" y1="111" x2="1382" y2="111" stroke="#6f7d8f" stroke-width="1.2" marker-end="url(#ag)"/>
<g font-size="7.5"><text x="1375" y="131" text-anchor="middle">minimize</text><text x="1392.4" y="162" text-anchor="middle">maximize</text><text x="1406.4" y="202" text-anchor="middle">maximize</text></g>
<text x="1385" y="236" font-size="11" fill="#f44336" text-anchor="middle">Contrastive loss</text>

<line x1="1435" y1="164.1" x2="1452" y2="164.1" stroke="#f44336" stroke-width="1.5" marker-end="url(#ar)"/>
<text x="1506" y="150" font-size="11" fill="#f44336" text-anchor="middle">(Similarity Distance)</text>
<text x="1506" y="170" font-size="16" fill="#f44336" text-anchor="middle">CCR Reward</text>
<line x1="1506.7" y1="180.5" x2="1506.7" y2="208" stroke="#f44336" stroke-width="1.5" marker-end="url(#ar)"/>
<circle cx="1506.7" cy="222.5" r="13" fill="#fff" stroke="#f44336" stroke-width="1.6"/>
<path d="M1499,222.5 L1514.4,222.5 M1506.7,214.8 L1506.7,230.2" stroke="#f44336" stroke-width="3.5"/>
<line x1="1506.7" y1="306.4" x2="1506.7" y2="237" stroke="#f44336" stroke-width="1.5" marker-end="url(#ar)"/>
<line x1="1435" y1="322.8" x2="1451" y2="322.8" stroke="#f44336" stroke-width="1.5" marker-end="url(#ar)"/>
<text x="1506" y="329" font-size="16" fill="#f44336" text-anchor="middle">EQR Reward</text>
<text x="1506" y="347.5" font-size="11" fill="#f44336" text-anchor="middle">(Negative Generator</text>
<text x="1506" y="363" font-size="11" fill="#f44336" text-anchor="middle">loss)</text>

<rect x="1068.5" y="253.3" width="365.5" height="139.9" rx="8" fill="none" stroke="#8a9099" stroke-width="1.3" stroke-dasharray="1.5,1.5"/>
<rect x="1085" y="245" width="325" height="22" fill="#fff"/>
<text x="1247" y="264" font-size="16.5" text-anchor="middle" fill="#111" textLength="296" lengthAdjust="spacingAndGlyphs">High-Quality Alignment Reward Model</text>
<text x="1124.7" y="284" font-size="10" text-anchor="middle">Generated</text><text x="1124.7" y="297" font-size="10" text-anchor="middle">Explanations</text>
<g fill="#8fd14f"><rect x="1091.4" y="303.3" width="13.4" height="12.7" rx="2"/><rect x="1109.2" y="303.3" width="13.4" height="12.7" rx="2"/><rect x="1127" y="303.3" width="13.4" height="12.7" rx="2"/><rect x="1144.9" y="303.3" width="13.4" height="12.7" rx="2"/></g>
<text x="1126" y="340" font-size="10" text-anchor="middle">GT Explanations</text><text x="1126" y="355.5" font-size="10" text-anchor="middle">(High quality)</text>
<g fill="#00b050"><rect x="1091.4" y="360.7" width="13.4" height="12.8" rx="2"/><rect x="1109.2" y="360.7" width="13.4" height="12.8" rx="2"/><rect x="1127" y="360.7" width="13.4" height="12.8" rx="2"/><rect x="1144.9" y="360.7" width="13.4" height="12.8" rx="2"/></g>
<path d="M1158,309 C1175,309 1172,330 1178,333 C1182,336 1186,336 1191,336" fill="none" stroke="#000" stroke-width="1.1" marker-end="url(#ab)"/>
<path d="M1158,367 C1175,367 1172,342 1178,339 C1182,336 1186,336 1191,336" fill="none" stroke="#000" stroke-width="1.1"/>
<rect x="1192.2" y="315.3" width="117.9" height="41.8" rx="7" fill="#fdd36a" stroke="#f7be1f" stroke-width="1.2"/>
<text x="1251" y="341" font-size="14" text-anchor="middle">Discriminator</text>
<path d="M1311,336 C1322,336 1320,322 1330,320 L1338,320" fill="none" stroke="#000" stroke-width="1.1" marker-end="url(#ab)"/>
<path d="M1311,336 C1322,336 1322,343 1330,343 L1338,343" fill="none" stroke="#000" stroke-width="1.1" marker-end="url(#ab)"/>
<g fill="#fde3a6"><rect x="1339.2" y="314.1" width="13.4" height="12.8" rx="1.5"/><rect x="1357" y="314.1" width="13.4" height="12.8" rx="1.5"/><rect x="1374" y="314.1" width="13.4" height="12.8" rx="1.5"/><rect x="1391.4" y="314.1" width="13.4" height="12.8" rx="1.5"/></g>
<g fill="#f7b519"><rect x="1339.2" y="337" width="13.4" height="12.8" rx="1.5"/><rect x="1357" y="337" width="13.4" height="12.8" rx="1.5"/><rect x="1374" y="337" width="13.4" height="12.8" rx="1.5"/><rect x="1391.4" y="337" width="13.4" height="12.8" rx="1.5"/></g>
<g fill="#c8c8c8"><rect x="1339.2" y="275" width="13.4" height="12.1" rx="1.5"/><rect x="1357" y="275" width="13.4" height="12.1" rx="1.5"/><rect x="1374" y="275" width="13.4" height="12.1" rx="1.5"/><rect x="1391.4" y="275" width="13.4" height="12.1" rx="1.5"/></g>
<g fill="#f8a09a"><rect x="1339.2" y="373.5" width="13.4" height="12.5" rx="1.5"/><rect x="1357" y="373.5" width="13.4" height="12.5" rx="1.5"/><rect x="1374" y="373.5" width="13.4" height="12.5" rx="1.5"/><rect x="1391.4" y="373.5" width="13.4" height="12.5" rx="1.5"/></g>
<g font-size="9" text-anchor="middle"><text x="1345.9" y="284.5">0</text><text x="1363.7" y="284.5">0</text><text x="1380.7" y="284.5">0</text><text x="1398.1" y="284.5">0</text><text x="1345.9" y="383">1</text><text x="1363.7" y="383">1</text><text x="1380.7" y="383">1</text><text x="1398.1" y="383">1</text></g>
<line x1="1344" y1="291" x2="1344" y2="307" stroke="#f44336" stroke-width="1" marker-start="url(#ar2)" marker-end="url(#ar2)"/>
<line x1="1344" y1="354" x2="1344" y2="370" stroke="#f44336" stroke-width="1" marker-start="url(#ar2)" marker-end="url(#ar2)"/>
<g font-size="9" fill="#f44336" text-anchor="middle"><text x="1384.2" y="298.5">Discriminator</text><text x="1384.2" y="309">loss (fake)</text><text x="1385" y="361">Discriminator</text><text x="1385" y="371.5">loss (real)</text></g>

<path d="M2,414.6 L2,425.5 L1052,425.5 L1052,414.6" fill="none" stroke="#000" stroke-width="1.2"/>
<line x1="2" y1="425" x2="1052" y2="425" stroke="#000" stroke-width="2.5"/>
<path d="M1068.5,414.6 L1068.5,425.5 L1434,425.5 L1434,414.6" fill="none" stroke="#000" stroke-width="1.2"/>
<line x1="1068.5" y1="425" x2="1434" y2="425" stroke="#000" stroke-width="2.5"/>
<text x="529" y="448" font-size="17" text-anchor="middle">LLM2ER</text>
<text x="1249" y="448" font-size="17" text-anchor="middle">EQR</text>
</svg>
</body></html>
